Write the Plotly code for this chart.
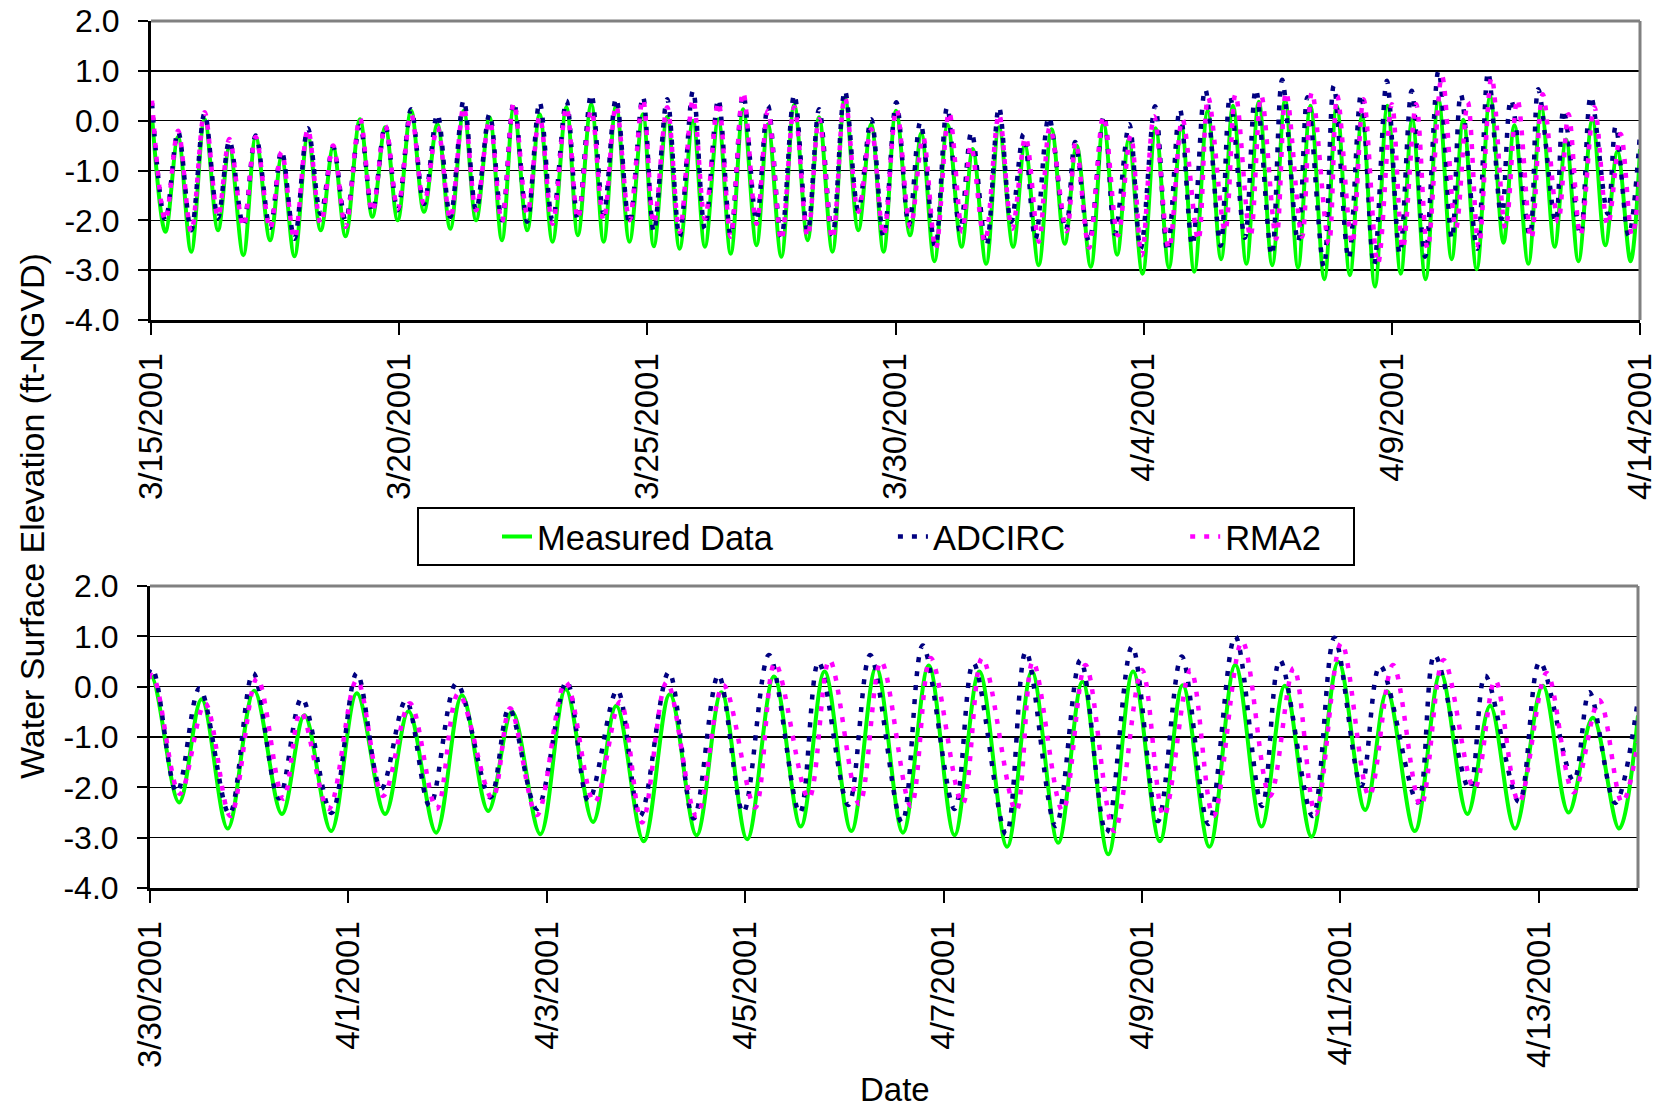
import datetime as dt
import plotly.graph_objects as go

# ---------------- data ----------------
# time of each tidal high / low, in days after 3/15/2001 00:00, and elevation (ft-NGVD)
meas_day = [0.02, 0.29, 0.545, 0.81, 1.08, 1.35, 1.58, 1.86, 2.11, 2.40, 2.63, 2.89, 3.16, 3.42, 3.67, 3.92,
            4.21, 4.46, 4.72, 4.97, 5.24, 5.50, 5.77, 6.03, 6.30, 6.55, 6.82, 7.07, 7.31, 7.58, 7.83, 8.09,
            8.37, 8.60, 8.87, 9.12, 9.37, 9.64, 9.91, 10.13, 10.40, 10.65, 10.92, 11.16, 11.43, 11.68, 11.93,
            12.20, 12.43, 12.70, 12.96, 13.23, 13.46, 13.73, 13.98, 14.25, 14.51, 14.76,
            15.01, 15.293, 15.52, 15.784, 16.05, 16.33, 16.557, 16.826, 17.085, 17.37, 17.606, 17.885,
            18.145, 18.41, 18.65, 18.935, 19.19, 19.466, 19.70, 19.977, 20.24, 20.51, 20.76, 21.02,
            21.29, 21.56, 21.80, 22.07, 22.32, 22.59, 22.85, 23.11, 23.36, 23.64, 23.89, 24.155,
            24.40, 24.66, 24.91, 25.18, 25.41, 25.68, 25.94, 26.205, 26.44, 26.71, 26.98, 27.25,
            27.47, 27.75, 28.01, 28.28, 28.51, 28.76, 29.04, 29.30, 29.545, 29.81, 30.0]
meas_ft = [0.1, -2.23, -0.33, -2.63, 0.03, -2.2, -0.53, -2.7, -0.33, -2.4, -0.73, -2.72, -0.3, -2.2, -0.53, -2.32,
           0.03, -1.93, -0.13, -2.0, 0.2, -1.83, -0.07, -2.17, 0.2, -2.0, 0.07, -2.4, 0.27, -2.2, 0.13, -2.43,
           0.27, -2.3, 0.33, -2.43, 0.3, -2.43, 0.13, -2.52, 0.08, -2.57, 0.0, -2.53, 0.03, -2.67, 0.23,
           -2.5, -0.07, -2.73, 0.32, -2.4, 0.07, -2.63, 0.47, -2.2, -0.07, -2.63,
           0.2, -2.3, -0.25, -2.82, -0.08, -2.53, -0.57, -2.87, -0.13, -2.53, -0.49, -2.9,
           -0.17, -2.47, -0.5, -2.93, -0.05, -2.69, -0.38, -3.07, -0.15, -2.95, -0.11, -3.03,
           0.2, -2.78, 0.3, -2.87, 0.38, -2.9, 0.42, -2.95, 0.3, -3.18, 0.3, -3.1,
           0.1, -3.33, 0.3, -3.07, 0.03, -3.18, 0.43, -2.78, 0.02, -2.98, 0.49, -2.45,
           -0.09, -2.87, 0.27, -2.53, -0.38, -2.82, 0.02, -2.5, -0.62, -2.82, -0.57]

adc_day = [0.02, 0.29, 0.545, 0.81, 1.08, 1.35, 1.58, 1.86, 2.11, 2.40, 2.63, 2.89, 3.16, 3.42, 3.67, 3.92,
           4.21, 4.46, 4.72, 4.97, 5.24, 5.50, 5.77, 6.03, 6.30, 6.55, 6.82, 7.07, 7.31, 7.58, 7.83, 8.09,
           8.37, 8.60, 8.87, 9.12, 9.37, 9.64, 9.91, 10.13, 10.40, 10.65, 10.92, 11.16, 11.43, 11.68, 11.93,
           12.20, 12.43, 12.70, 12.96, 13.23, 13.46, 13.73, 13.98, 14.25, 14.51, 14.76,
           15.017, 15.27, 15.50, 15.80, 16.04, 16.30, 16.53, 16.83, 17.085, 17.33, 17.58, 17.82,
           18.09, 18.43, 18.62, 18.90, 19.20, 19.42, 19.71, 19.94, 20.23, 20.48, 20.73, 20.98,
           21.24, 21.55, 21.74, 22.04, 22.26, 22.58, 22.79, 23.11, 23.30, 23.63, 23.83, 24.13,
           24.38, 24.64, 24.90, 25.16, 25.40, 25.67, 25.94, 26.21, 26.39, 26.72, 26.94, 27.21,
           27.40, 27.78, 27.95, 28.30, 28.46, 28.80, 29.01, 29.35, 29.51, 29.77, 30.0]
adc_ft = [0.35, -2.0, -0.22, -2.2, 0.15, -1.95, -0.4, -2.1, -0.3, -2.15, -0.6, -2.37, -0.15, -1.87, -0.53, -2.0,
          -0.1, -1.83, -0.1, -1.8, 0.23, -1.67, 0.13, -1.93, 0.41, -1.8, 0.13, -2.0, 0.37, -2.03, 0.37, -2.0,
          0.4, -2.0, 0.53, -1.87, 0.45, -2.07, 0.48, -2.23, 0.43, -2.33, 0.6, -2.17, 0.43, -2.3, 0.53,
          -2.0, 0.3, -2.33, 0.52, -2.23, 0.23, -2.3, 0.6, -1.8, 0.03, -2.33,
          0.37, -2.1, -0.03, -2.53, 0.27, -2.22, -0.23, -2.51, 0.27, -2.03, -0.27, -2.37,
          0.07, -2.2, -0.43, -2.43, 0.1, -2.27, -0.07, -2.57, 0.29, -2.62, 0.23, -2.5,
          0.63, -2.51, 0.49, -2.35, 0.63, -2.7, 0.82, -2.43, 0.47, -2.93, 0.7, -2.77,
          0.53, -2.9, 0.8, -2.67, 0.6, -2.73, 1.0, -2.37, 0.53, -2.57, 0.97, -1.97,
          0.42, -2.3, 0.63, -2.03, 0.22, -2.29, 0.49, -1.87, -0.11, -2.31, -0.25]

rma_day = [0.02, 0.29, 0.545, 0.81, 1.08, 1.35, 1.58, 1.86, 2.11, 2.40, 2.63, 2.89, 3.16, 3.42, 3.67, 3.92,
           4.21, 4.46, 4.72, 4.97, 5.24, 5.50, 5.77, 6.03, 6.30, 6.55, 6.82, 7.07, 7.31, 7.58, 7.83, 8.09,
           8.37, 8.60, 8.87, 9.12, 9.37, 9.64, 9.91, 10.13, 10.40, 10.65, 10.92, 11.16, 11.43, 11.68, 11.93,
           12.20, 12.43, 12.70, 12.96, 13.23, 13.46, 13.73, 13.98, 14.25, 14.51, 14.76,
           15.02, 15.30, 15.555, 15.81, 16.08, 16.345, 16.52, 16.80, 17.085, 17.35, 17.62, 17.89,
           18.11, 18.45, 18.63, 18.90, 19.19, 19.48, 19.74, 19.96, 20.21, 20.51, 20.78, 21.10,
           21.30, 21.64, 21.85, 22.15, 22.37, 22.67, 22.87, 23.19, 23.39, 23.73, 23.90, 24.20,
           24.43, 24.72, 25.0, 25.22, 25.49, 25.72, 26.01, 26.29, 26.53, 26.75, 27.01, 27.29,
           27.53, 27.81, 28.04, 28.35, 28.56, 28.80, 29.08, 29.35, 29.61, 29.84, 30.0]
rma_ft = [0.4, -2.0, -0.2, -2.23, 0.17, -1.93, -0.37, -2.13, -0.33, -2.17, -0.63, -2.37, -0.17, -2.07, -0.5, -2.13,
          0.05, -1.83, -0.1, -1.77, 0.13, -1.67, -0.13, -1.97, 0.27, -1.8, 0.0, -2.03, 0.35, -1.87, 0.08, -2.07,
          0.27, -1.97, 0.21, -2.0, 0.3, -2.0, 0.43, -2.07, 0.27, -2.23, 0.43, -1.97, 0.37, -2.33, 0.57,
          -2.07, 0.2, -2.4, 0.27, -2.33, 0.03, -2.37, 0.47, -1.83, -0.17, -2.3,
          0.23, -2.13, -0.33, -2.57, 0.17, -2.23, -0.5, -2.43, 0.13, -2.17, -0.33, -2.43,
          -0.13, -2.22, -0.43, -2.55, 0.09, -2.3, -0.3, -2.7, 0.09, -2.57, 0.03, -2.4,
          0.47, -2.22, 0.53, -2.33, 0.5, -2.37, 0.57, -2.33, 0.57, -2.47, 0.5, -2.47,
          0.43, -2.87, 0.33, -2.57, 0.33, -2.57, 0.9, -2.17, 0.37, -2.53, 0.87, -2.17,
          0.43, -2.37, 0.53, -2.03, 0.13, -2.3, 0.27, -2.1, -0.27, -2.3, -1.1]

series_names = ["Measured Data", "ADCIRC", "RMA2"]

top_range = ["2001-03-15", "2001-04-14"]
top_tickvals = ["2001-03-15", "2001-03-20", "2001-03-25", "2001-03-30", "2001-04-04", "2001-04-09", "2001-04-14"]
top_ticktext = ["3/15/2001", "3/20/2001", "3/25/2001", "3/30/2001", "4/4/2001", "4/9/2001", "4/14/2001"]

bot_range = ["2001-03-30", "2001-04-14"]
bot_tickvals = ["2001-03-30", "2001-04-01", "2001-04-03", "2001-04-05", "2001-04-07", "2001-04-09",
                "2001-04-11", "2001-04-13"]
bot_ticktext = ["3/30/2001", "4/1/2001", "4/3/2001", "4/5/2001", "4/7/2001", "4/9/2001", "4/11/2001", "4/13/2001"]

y_tickvals = [-4, -3, -2, -1, 0, 1, 2]
y_ticktext = ["-4.0", "-3.0", "-2.0", "-1.0", "0.0", "1.0", "2.0"]

# ---------------- figure ----------------
BASE = dt.datetime(2001, 3, 15)


def to_dates(days):
    return [BASE + dt.timedelta(days=d) for d in days]


FONT = "Liberation Sans, Arial, sans-serif"
W, H = 1661, 1107
NB = "\u00a0"

styles = [
    dict(color="#00FF00", width=4, dash="solid"),
    dict(color="#000080", width=4.5, dash="5px,9px"),
    dict(color="#FF00FF", width=4.5, dash="5px,9px"),
]
legend_names = [series_names[0] + NB * 12, series_names[1] + NB * 12, series_names[2] + NB * 2]
data = [(meas_day, meas_ft), (adc_day, adc_ft), (rma_day, rma_ft)]

fig = go.Figure()
for panel, (xa, ya) in enumerate([("x", "y"), ("x2", "y2")]):
    for i, (d, v) in enumerate(data):
        fig.add_trace(go.Scatter(
            x=to_dates(d), y=v, mode="lines", name=legend_names[i],
            line=dict(shape="spline", smoothing=1.0, **styles[i]),
            xaxis=xa, yaxis=ya, showlegend=(panel == 0), hoverinfo="skip"))

common_x = dict(type="date", showgrid=False, showline=True, linecolor="black", linewidth=3,
                ticks="outside", ticklen=12, tickwidth=2, tickcolor="black", tickangle=-90,
                ticklabelstandoff=5,
                tickfont=dict(size=33, family=FONT, color="black"), zeroline=False, automargin=False)
common_y = dict(range=[-4, 2], tickvals=y_tickvals, ticktext=y_ticktext, showgrid=True,
                gridcolor="black", gridwidth=1.5, showline=True, linecolor="black", linewidth=3,
                ticks="outside", ticklen=10, tickwidth=2, tickcolor="black", zeroline=False,
                ticklabelstandoff=12,
                tickfont=dict(size=32, family=FONT, color="black"), automargin=False)

fig.update_layout(
    template="none",
    width=W, height=H, margin=dict(l=0, r=0, t=0, b=0, pad=0),
    paper_bgcolor="white", plot_bgcolor="white",
    font=dict(family=FONT, size=33, color="black"),
    xaxis=dict(domain=[151 / W, 1640 / W], anchor="y", range=top_range,
               tickvals=top_tickvals, ticktext=top_ticktext, **common_x),
    yaxis=dict(domain=[1 - 320 / H, 1 - 21 / H], anchor="x", **common_y),
    xaxis2=dict(domain=[150 / W, 1638 / W], anchor="y2", range=bot_range,
                tickvals=bot_tickvals, ticktext=bot_ticktext, **common_x),
    yaxis2=dict(domain=[1 - 888 / H, 1 - 586 / H], anchor="x2", **common_y),
    legend=dict(orientation="h", x=497 / W, xanchor="left", y=1 - 536.5 / H, yanchor="middle",
                bgcolor="rgba(0,0,0,0)", borderwidth=0,
                font=dict(size=34.5, family=FONT, color="black")),
    showlegend=True,
)

shapes = []
for xa, ya in [("x", "y"), ("x2", "y2")]:
    shapes.append(dict(type="line", xref=f"{xa} domain", yref=f"{ya} domain", x0=0, x1=1, y0=1, y1=1,
                       line=dict(color="#808080", width=3), layer="above"))
    shapes.append(dict(type="line", xref=f"{xa} domain", yref=f"{ya} domain", x0=1, x1=1, y0=0, y1=1,
                       line=dict(color="#808080", width=3), layer="above"))
# legend frame
shapes.append(dict(type="rect", xref="paper", yref="paper", x0=418 / W, x1=1354 / W,
                   y0=1 - 565 / H, y1=1 - 508 / H, line=dict(color="black", width=2),
                   fillcolor="white", layer="above"))
fig.update_layout(shapes=shapes)

fig.add_annotation(text="Water Surface Elevation (ft-NGVD)", xref="paper", yref="paper",
                   x=32 / W, y=1 - 516 / H, xanchor="center", yanchor="middle", textangle=-90,
                   showarrow=False, font=dict(size=34, family=FONT, color="black"))
fig.add_annotation(text="Date", xref="paper", yref="paper", x=895 / W, y=1 - 1089 / H,
                   xanchor="center", yanchor="middle",
                   showarrow=False, font=dict(size=33, family=FONT, color="black"))

fig.write_html("out.html", config={"displayModeBar": False, "staticPlot": True},
               post_script="document.body.style.margin='0px';document.body.style.overflow='hidden';")
